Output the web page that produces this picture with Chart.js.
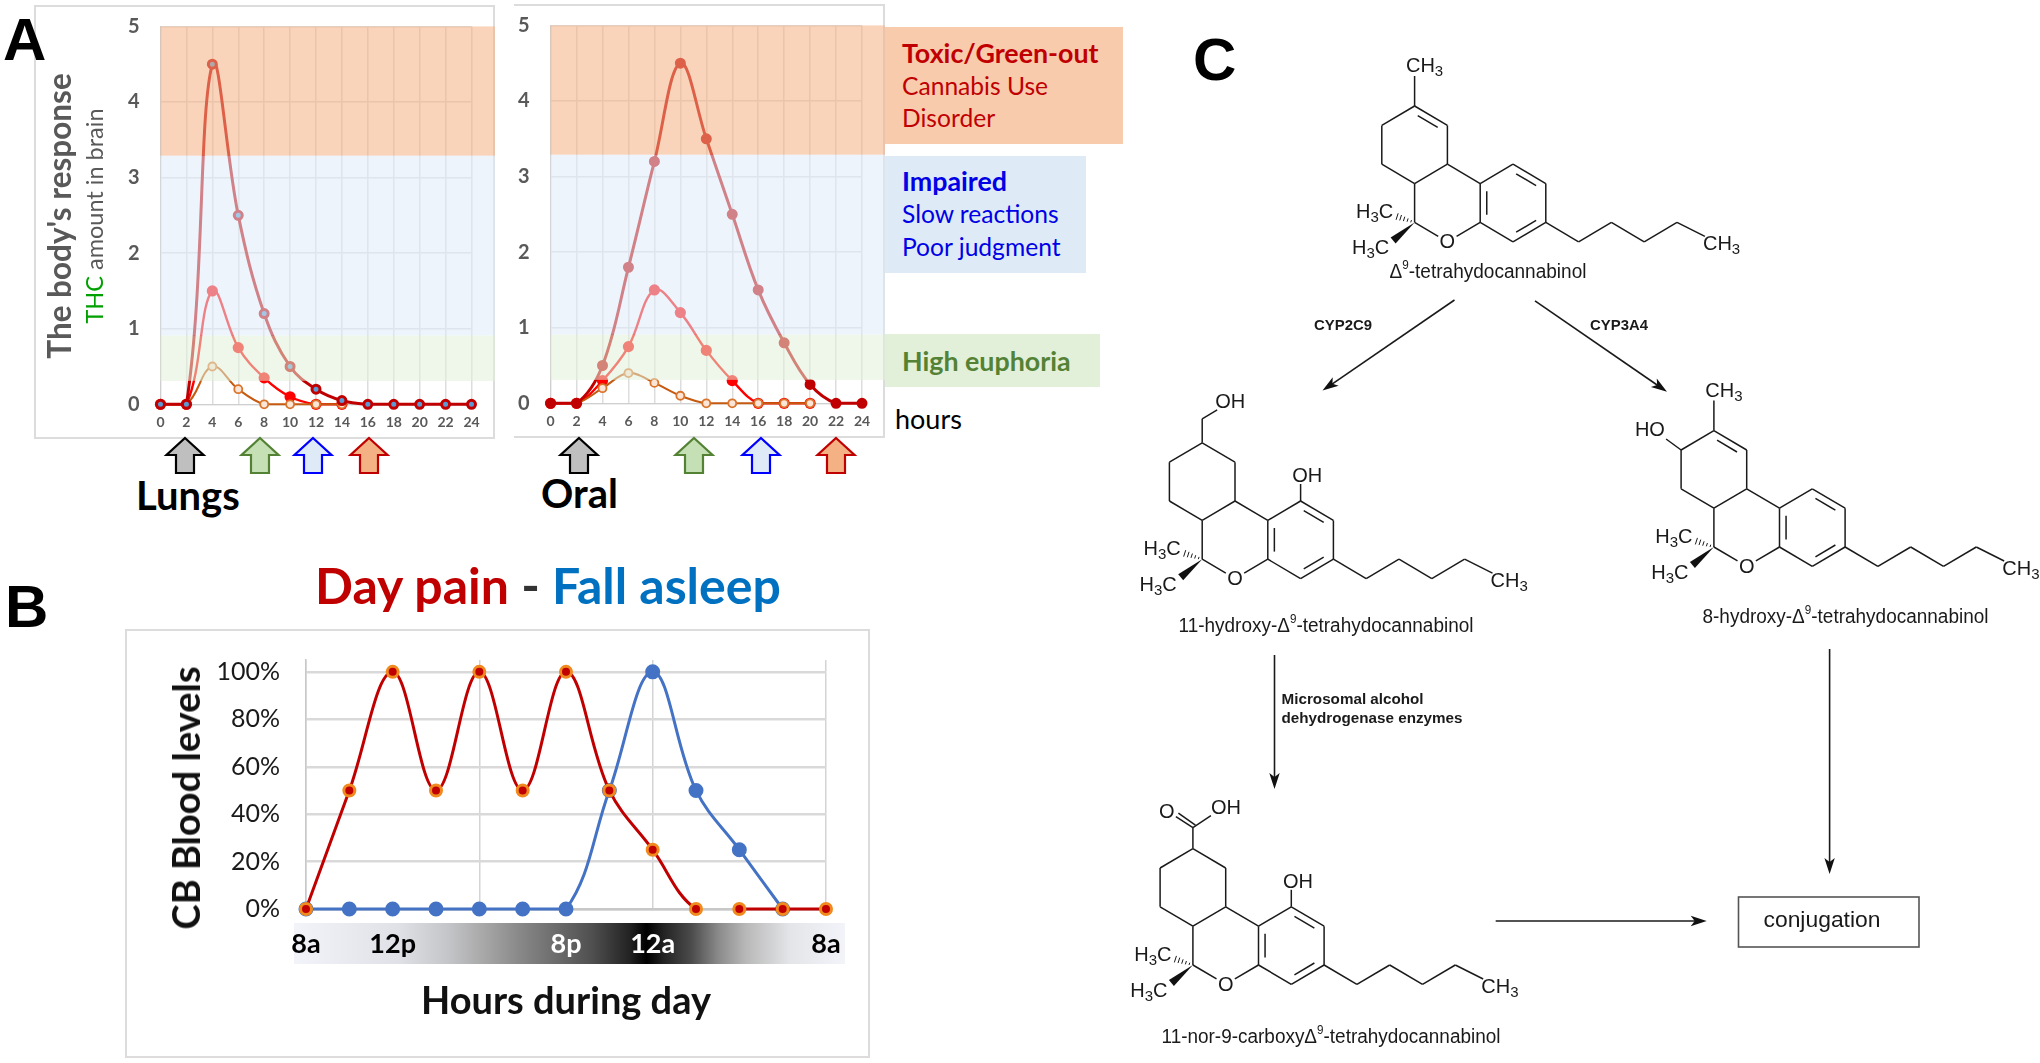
<!DOCTYPE html>
<html>
<head>
<meta charset="utf-8">
<title>THC response and metabolism</title>
<script src="https://cdn.jsdelivr.net/npm/chart.js@4"></script>
<style>
  html, body { margin: 0; background: #fff; overflow: hidden; }
  #page { position: relative; width: 2040px; height: 1063px; font-family: Lato, sans-serif; }
  #page > * { position: absolute; }
  .card { box-sizing: border-box; border: 2px solid #dcdcdc; }
  .txt { white-space: nowrap; line-height: 1; }
  .panel { font: bold 60px "Liberation Sans", Arial, sans-serif; color: #000; }
  .vert { transform: translate(-50%, -50%) rotate(-90deg); }
  .band .txt { position: absolute; left: 17px; font-size: 24.6px; }
  .band .txt.head { font-size: 26.8px; font-weight: bold; }
</style>
</head>
<body>
<div id="page">
  <div class="card" style="left:34px;top:5px;width:461px;height:434px"></div>
  <div class="card" style="left:514px;top:4px;width:371px;height:434px;border-left:none"></div>
  <div class="card" style="left:125px;top:629px;width:745px;height:429px"></div>

  <div class="band" style="left:885px;top:27px;width:238px;height:117px;background:#f8cbad">
    <div class="txt head" style="top:13px;color:#c00000">Toxic/Green-out</div>
    <div class="txt" style="top:47px;color:#c00000">Cannabis Use</div>
    <div class="txt" style="top:79px;color:#c00000">Disorder</div>
  </div>
  <div class="band" style="left:885px;top:156px;width:201px;height:117px;background:#deeaf6">
    <div class="txt head" style="top:12px;color:#0000e6">Impaired</div>
    <div class="txt" style="top:46px;color:#0000e6">Slow reactions</div>
    <div class="txt" style="top:79px;color:#0000e6">Poor judgment</div>
  </div>
  <div class="band" style="left:885px;top:334px;width:215px;height:53px;background:#e2efd9">
    <div class="txt head" style="top:14px;color:#548235">High euphoria</div>
  </div>

  <div style="left:294px;top:923px;width:551px;height:41px;background:linear-gradient(90deg,#f2f4fa 0%,#e0e1e6 19%,#c4c5c8 28%,#a5a5a5 35%,#888 41%,#6a6a6a 48%,#505050 54%,#222 61%,#000 64%,#222 67%,#4a4a4a 72%,#8a8a8a 77%,#b8b8b8 82%,#e4e5e8 90%,#f2f4fa 100%)"></div>

  <canvas id="lungsChart" width="461" height="434" style="left:34px;top:5px"></canvas>
  <canvas id="oralChart" width="371" height="434" style="left:514px;top:4px"></canvas>
  <canvas id="dayChart" width="745" height="429" style="left:125px;top:629px"></canvas>

  <div class="txt vert" style="left:60px;top:216px;font-size:31.5px;font-weight:bold;color:#595959">The body's response</div>
  <div class="txt vert" style="left:95px;top:216px;font-size:23.5px;color:#595959"><span style="color:#00a000">THC</span> amount in brain</div>
  <div class="txt" style="left:136px;top:475px;font-size:40px;font-weight:bold;color:#000">Lungs</div>
  <div class="txt" style="left:541px;top:473px;font-size:40px;font-weight:bold;color:#000">Oral</div>
  <div class="txt" style="left:895px;top:405px;font-size:27px;color:#000">hours</div>
  <div class="txt" style="left:315px;top:560px;font-size:50px;font-weight:bold;color:#333"><span style="color:#c00000">Day pain</span> - <span style="color:#0070c0">Fall asleep</span></div>
  <div class="txt vert" style="left:185px;top:798px;font-size:38px;font-weight:bold;color:#111">CB Blood levels</div>

  <div class="txt panel" style="left:3px;top:5px">A</div>
  <div class="txt panel" style="left:5px;top:572px">B</div>
  <div class="txt panel" style="left:1193px;top:25px">C</div>

  <svg id="overlay" width="2040" height="1063" style="left:0;top:0;pointer-events:none"></svg>
</div>

<script>
// Panel A values
const hourTicks = [0, 2, 4, 6, 8, 10, 12, 14, 16, 18, 20, 22, 24];
const lungsHigh = [0, 0, 4.5, 2.5, 1.2, 0.5, 0.2, 0.05, 0, 0, 0, 0, 0];
const lungsMid = [0, 0, 1.5, 0.75, 0.35, 0.1, 0, 0];
const lungsLow = [0, 0, 0.5, 0.2, 0, 0, 0, 0];
const oralHigh = [0, 0, 0.5, 1.8, 3.2, 4.5, 3.5, 2.5, 1.5, 0.8, 0.25, 0, 0];
const oralMid = [0, 0, 0.3, 0.75, 1.5, 1.2, 0.7, 0.3, 0, 0, 0];
const oralLow = [0, 0, 0.2, 0.4, 0.27, 0.1, 0, 0, 0, 0, 0];
const responseTicks = [0, 1, 2, 3, 4, 5];

// Response zones on the 0-5 scale
const zoneLimits = [0.31, 0.91, 3.29, 5];
const zoneColors = ["rgba(226,239,217,.55)", "rgba(222,235,247,.55)", "rgba(244,177,131,.55)"];

// Panel B values
const dayLabels = ["8a", "", "12p", "", "", "", "8p", "", "12a", "", "", "", "8a"];
const dayPain = [0, 50, 100, 50, 100, 50, 100, 50, 25, 0, 0, 0, 0];
const fallAsleep = [0, 0, 0, 0, 0, 0, 0, 50, 100, 50, 25, 0];
const darkLabels = ["8p", "12a"];

Chart.defaults.font.family = "Lato, sans-serif";
Chart.defaults.animation = false;

// translucent zones go over the lines, that is what fades them in the picture
const zonePlugin = {
  id: "zones",
  afterDatasetsDraw(chart) {
    const { ctx, chartArea, scales } = chart;
    zoneColors.forEach((color, i) => {
      const top = scales.y.getPixelForValue(zoneLimits[i + 1]);
      const bottom = scales.y.getPixelForValue(zoneLimits[i]);
      ctx.fillStyle = color;
      ctx.fillRect(chartArea.left, top, chart.width - chartArea.left, bottom - top);
    });
  },
};

function renderDose(id, high, mid, low, highFill, box) {
  const series = (data, color, width, fill, edge, radius, edgeWidth) => ({
    data,
    borderColor: color,
    borderWidth: width,
    tension: 0.38,
    clip: false,
    pointBackgroundColor: fill,
    pointBorderColor: edge,
    pointBorderWidth: edgeWidth,
    pointRadius: radius,
  });
  return new Chart(document.getElementById(id), {
    type: "line",
    plugins: [zonePlugin],
    data: {
      labels: hourTicks,
      datasets: [
        series(high, "#c00000", 3, highFill, "#c00000", 4, 3),
        series(low, "#c55a11", 2, "#fbe5d6", "#d9742c", 4, 1.8),
        series(mid, "#ff0000", 2.4, "#ff0000", "#ff0000", 5.6, 0),
      ],
    },
    options: {
      responsive: false,
      layout: { autoPadding: false, padding: { top: box.top, right: box.right } },
      plugins: { legend: { display: false }, tooltip: { enabled: false } },
      scales: {
        x: {
          type: "category",
          afterFit: (s) => { s.height = box.bottom; s.paddingLeft = 0; s.paddingRight = 0; },
          grid: { color: "#dddddd", lineWidth: 1.5, drawTicks: false },
          border: { color: "#cfcfcf" },
          ticks: { color: "#595959", font: { size: 14, weight: "bold" }, padding: 10, maxRotation: 0, autoSkip: false },
        },
        y: {
          min: 0,
          max: 5,
          afterFit: (s) => { s.width = box.left; s.paddingTop = 0; s.paddingBottom = 0; },
          afterBuildTicks: (s) => { s.ticks = responseTicks.map((value) => ({ value })); },
          grid: { color: "#dddddd", lineWidth: 1.5, drawTicks: false },
          border: { color: "#cfcfcf" },
          ticks: { color: "#595959", font: { size: 20, weight: "bold" }, padding: 21 },
        },
      },
    },
  });
}

renderDose("lungsChart", lungsHigh, lungsMid, lungsLow, "#5b9bd5", { left: 126.5, top: 21.4, right: 23.5, bottom: 34.7 });
renderDose("oralChart", oralHigh, oralMid, oralLow, "#c00000", { left: 36.6, top: 21.4, right: 23, bottom: 34.7 });

new Chart(document.getElementById("dayChart"), {
  type: "line",
  data: {
    labels: dayLabels,
    datasets: [
      {
        data: dayPain,
        borderColor: "#c00000",
        borderWidth: 3,
        tension: 0.38,
        clip: false,
        pointBackgroundColor: "#c00000",
        pointBorderColor: "#f08a1e",
        pointBorderWidth: 3,
        pointRadius: 5.5,
        // the red line is broken between these two points in the picture
        segment: { borderColor: (c) => (c.p0DataIndex === 9 ? "transparent" : undefined) },
      },
      {
        data: fallAsleep,
        borderColor: "#4472c4",
        borderWidth: 3,
        tension: 0.38,
        clip: false,
        pointBackgroundColor: "#4472c4",
        pointBorderColor: "#4472c4",
        pointRadius: 6,
      },
    ],
  },
  options: {
    responsive: false,
    layout: { autoPadding: false, padding: { top: 31, right: 44 } },
    plugins: { legend: { display: false }, tooltip: { enabled: false } },
    scales: {
      x: {
        afterFit: (s) => { s.height = 149; s.paddingLeft = 0; s.paddingRight = 0; },
        grid: {
          drawTicks: false,
          lineWidth: 1.5,
          color: (c) => (c.index % 4 === 0 ? "#d4d4d4" : "transparent"),
        },
        border: { color: "#c8c8c8", width: 2.5 },
        title: { display: true, text: "Hours during day", color: "#111", font: { size: 38, weight: "bold" }, padding: { top: 0, bottom: 33 } },
        ticks: {
          autoSkip: false,
          maxRotation: 0,
          padding: 19,
          font: { size: 27, weight: "bold" },
          color: (c) => (darkLabels.includes(dayLabels[c.index]) ? "#ffffff" : "#000000"),
        },
      },
      y: {
        min: 0,
        max: 105,
        afterFit: (s) => { s.width = 181; s.paddingTop = 0; s.paddingBottom = 0; },
        grid: { color: "#d9d9d9", lineWidth: 2.4, drawTicks: false },
        border: { color: "#c8c8c8", width: 1.5 },
        ticks: { stepSize: 20, includeBounds: false, color: "#1a1a1a", padding: 26, font: { size: 25 }, callback: (v) => v + "%" },
      },
    },
  },
});

// SVG overlay: block arrows of panel A and the reaction scheme of panel C
const svg = document.getElementById("overlay");
const NS = "http://www.w3.org/2000/svg";
function add(tag, attrs, html) {
  const el = document.createElementNS(NS, tag);
  for (const k in attrs) el.setAttribute(k, attrs[k]);
  if (html) el.innerHTML = html;
  svg.appendChild(el);
  return el;
}

function blockArrow(cx, fill, stroke) {
  const top = 438, bottom = 473, neck = 455, hw = 18.5, sw = 9;
  const pts = [[cx, top], [cx + hw, neck], [cx + sw, neck], [cx + sw, bottom], [cx - sw, bottom], [cx - sw, neck], [cx - hw, neck]];
  add("polygon", { points: pts.join(" "), fill, stroke, "stroke-width": 2.2 });
}
const arrowStyles = [["#bfbfbf", "#000000"], ["#c5e0b4", "#548235"], ["#deebf7", "#0000ff"], ["#f4b183", "#c00000"]];
[185, 260, 313, 369].forEach((x, i) => blockArrow(x, ...arrowStyles[i]));
[579, 694, 761, 836].forEach((x, i) => blockArrow(x, ...arrowStyles[i]));

function bond(x1, y1, x2, y2, width = 1.5, color = "#1a1a1a") {
  add("line", { x1, y1, x2, y2, stroke: color, "stroke-width": width });
}
function label(x, y, html, size = 20, extra = {}) {
  add("text", { x, y, "font-family": "'Liberation Sans', Arial, sans-serif", "font-size": size, fill: "#1a1a1a",
    "text-anchor": "middle", "dominant-baseline": "central", ...extra }, html);
}
const sub = (s, d = 5) => `<tspan dy="${d}" font-size="15">${s}</tspan><tspan dy="${-d}">&#8203;</tspan>`;

function molecule(x0, y0, o) {
  const a = 32.8, b = 19.4, v = 38.8;
  const P = (px, py) => [x0 + px, y0 + py];
  const line = (p, q, w) => bond(p[0], p[1], q[0], q[1], w);
  const chain = (pts) => pts.slice(1).forEach((q, i) => line(pts[i], q));
  const inner = (p, q, c, t = 0.2, s = 0.12) => {
    const pi = [p[0] + (c[0] - p[0]) * t, p[1] + (c[1] - p[1]) * t];
    const qi = [q[0] + (c[0] - q[0]) * t, q[1] + (c[1] - q[1]) * t];
    line([pi[0] + (qi[0] - pi[0]) * s, pi[1] + (qi[1] - pi[1]) * s], [qi[0] + (pi[0] - qi[0]) * s, qi[1] + (pi[1] - qi[1]) * s]);
  };
  const c6 = P(0, 0), c6a = P(0, -v), c10a = P(a, -v - b), c10 = P(a, -2 * v - b), c9 = P(0, -2 * v - 2 * b), c8 = P(-a, -2 * v - b), c7 = P(-a, -v - b);
  chain([c6, c6a, c10a, c10, c9, c8, c7, c6a]);
  const r1 = P(2 * a, -v), r2 = P(3 * a, -v - b), r3 = P(4 * a, -v), r4 = P(4 * a, 0), r5 = P(3 * a, b), r6 = P(2 * a, 0);
  const mid = P(3 * a, -v / 2);
  chain([c10a, r1, r2, r3, r4, r5, r6, r1]);
  inner(r1, r6, mid); inner(r2, r3, mid); inner(r4, r5, mid);
  // pyran oxygen
  line(c6, P(a * 0.72, b * 0.72));
  line(P(a * 1.28, b * 0.72), r6);
  label(x0 + a, y0 + 19, "O");
  // pentyl
  chain([r4, P(5 * a, b), P(6 * a, 0), P(7 * a, b), P(8 * a, 0), P(8.85 * a, 14)]);
  label(x0 + 307, y0 + 21, "CH" + sub(3));
  // gem dimethyl, hashed and wedged
  for (let i = 1; i <= 5; i++) {
    const t = i / 6, cx = -21 * t, cy = -7 * t, h = 0.6 + 3.2 * t;
    bond(x0 + cx + h * 0.32, y0 + cy - h, x0 + cx - h * 0.32, y0 + cy + h, 1);
  }
  add("polygon", { points: [P(0, 0), P(-24, 15), P(-19, 21)].join(" "), fill: "#111" });
  label(x0 - 40, y0 - 11, "H" + sub(3) + "C");
  label(x0 - 44, y0 + 25, "H" + sub(3) + "C");

  if (o.ene) inner(c9, c10, P(0, -1.5 * v - b));
  if (o.methyl) { line(c9, P(0, -2 * v - 2 * b - 30)); label(x0 + 10, y0 - 157, "CH" + sub(3)); }
  if (o.hydroxy8) { line(c8, P(-a - 15, -2 * v - b - 11)); label(x0 - 64, y0 - 118, "HO"); }
  if (o.phenol) { line(r2, P(3 * a, -v - b - 17)); label(x0 + 105, y0 - 84, "OH"); }
  if (o.ch2oh) { chain([c9, P(0, -2 * v - 2 * b - 24), P(15, -2 * v - 2 * b - 33)]); label(x0 + 28, y0 - 158, "OH"); }
  if (o.acid) {
    const k = P(0, -2 * v - 2 * b - 21);
    line(c9, k);
    line(k, P(-17, -2 * v - 2 * b - 32));
    line(P(2.5, -2 * v - 2 * b - 23.5), P(-14.5, -2 * v - 2 * b - 35.5));
    line(k, P(18, -2 * v - 2 * b - 33));
    label(x0 - 26, y0 - 154, "O");
    label(x0 + 33, y0 - 158, "OH");
  }
}
molecule(1414.6, 222.4, { ene: true, methyl: true });
molecule(1202.2, 559.2, { ch2oh: true, phenol: true });
molecule(1713.9, 547, { ene: true, methyl: true, hydroxy8: true });
molecule(1192.9, 965, { acid: true, phenol: true });

function arrow(x1, y1, x2, y2) {
  const ang = Math.atan2(y2 - y1, x2 - x1), L = 16, W = 5.2;
  const ux = Math.cos(ang), uy = Math.sin(ang);
  bond(x1, y1, x2 - ux * 8, y2 - uy * 8, 1.6);
  const pts = [[x2, y2], [x2 - ux * L - uy * W, y2 - uy * L + ux * W], [x2 - ux * (L - 4), y2 - uy * (L - 4)], [x2 - ux * L + uy * W, y2 - uy * L - ux * W]];
  add("polygon", { points: pts.join(" "), fill: "#111" });
}
arrow(1454.5, 300, 1322.5, 390.6);
arrow(1535, 300.8, 1667, 391.8);
arrow(1274.5, 655, 1274.5, 789);
arrow(1829.6, 649, 1829.6, 874);
arrow(1495.7, 921, 1706.7, 921);

const fit = (w) => ({ textLength: w, lengthAdjust: "spacingAndGlyphs" });
const delta9 = `&#916;<tspan dy="-6" font-size="12">9</tspan><tspan dy="6">-tetrahydocannabinol</tspan>`;
label(1488, 271, delta9, 19.5, fit(197));
label(1326, 624.5, "11-hydroxy-" + delta9, 19.5, fit(295));
label(1845.5, 616, "8-hydroxy-" + delta9, 19.5, fit(286));
label(1331, 1036, "11-nor-9-carboxy" + delta9, 19.5, fit(339));
label(1343, 325, "CYP2C9", 14, { "font-weight": "bold", ...fit(58) });
label(1619, 325, "CYP3A4", 14, { "font-weight": "bold", ...fit(58) });
label(1352.6, 698, "Microsomal alcohol", 15, { "font-weight": "bold", ...fit(142) });
label(1372, 717, "dehydrogenase enzymes", 15, { "font-weight": "bold", ...fit(181) });
add("rect", { x: 1738.5, y: 897, width: 180.5, height: 50, fill: "none", stroke: "#555", "stroke-width": 1.6 });
label(1822, 919, "conjugation", 22, fit(117));
</script>
</body>
</html>
